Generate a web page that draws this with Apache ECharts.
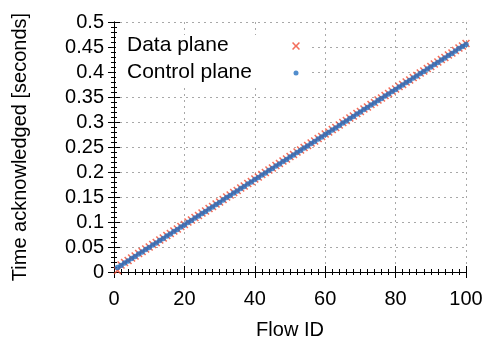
<!DOCTYPE html>
<html>
<head>
<meta charset="utf-8">
<script src="https://cdn.jsdelivr.net/npm/echarts@6/dist/echarts.min.js"></script>
<style>
  html, body { margin: 0; padding: 0; background: #fff; }
  #chart { width: 489px; height: 347px; }
</style>
</head>
<body>
<div id="chart"></div>
<script>
var flowIds = [1,2,3,4,5,6,7,8,9,10,11,12,13,14,15,16,17,18,19,20,
  21,22,23,24,25,26,27,28,29,30,31,32,33,34,35,36,37,38,39,40,
  41,42,43,44,45,46,47,48,49,50,51,52,53,54,55,56,57,58,59,60,
  61,62,63,64,65,66,67,68,69,70,71,72,73,74,75,76,77,78,79,80,
  81,82,83,84,85,86,87,88,89,90,91,92,93,94,95,96,97,98,99,100];

var dataPlane = [0.003,0.014,0.019,0.023,0.028,0.032,0.037,0.041,0.046,0.050,
  0.055,0.059,0.064,0.068,0.073,0.077,0.082,0.086,0.091,0.095,
  0.100,0.104,0.109,0.113,0.118,0.122,0.127,0.131,0.136,0.140,
  0.145,0.150,0.154,0.159,0.163,0.168,0.172,0.177,0.181,0.186,
  0.190,0.195,0.199,0.204,0.208,0.213,0.217,0.222,0.226,0.231,
  0.235,0.240,0.244,0.249,0.253,0.258,0.262,0.267,0.271,0.276,
  0.280,0.285,0.289,0.294,0.299,0.303,0.308,0.312,0.317,0.321,
  0.326,0.330,0.335,0.339,0.344,0.348,0.353,0.357,0.362,0.366,
  0.371,0.375,0.380,0.384,0.389,0.393,0.398,0.402,0.407,0.411,
  0.416,0.420,0.425,0.429,0.434,0.438,0.443,0.448,0.452,0.457];

var controlPlane = [0.009,0.013,0.018,0.022,0.027,0.031,0.036,0.040,0.045,0.049,
  0.054,0.058,0.063,0.067,0.072,0.076,0.081,0.085,0.090,0.094,
  0.099,0.103,0.108,0.112,0.117,0.121,0.126,0.130,0.135,0.139,
  0.144,0.149,0.153,0.158,0.162,0.167,0.171,0.176,0.180,0.185,
  0.189,0.194,0.198,0.203,0.207,0.212,0.216,0.221,0.225,0.230,
  0.234,0.239,0.243,0.248,0.252,0.257,0.261,0.266,0.270,0.275,
  0.279,0.284,0.288,0.293,0.298,0.302,0.307,0.311,0.316,0.320,
  0.325,0.329,0.334,0.338,0.343,0.347,0.352,0.356,0.361,0.365,
  0.370,0.374,0.379,0.383,0.388,0.392,0.397,0.401,0.406,0.410,
  0.415,0.419,0.424,0.428,0.433,0.437,0.442,0.447,0.451,0.455];

var seriesNames = ['Data plane', 'Control plane'];

function pairs(xs, ys) {
    var out = [];
    for (var i = 0; i < xs.length; i++) out.push([xs[i], ys[i]]);
    return out;
}

var font = 'Liberation Sans, Arial, Helvetica, sans-serif';
var crossPath = 'path://M0,1.4L1.4,0L5,3.6L8.6,0L10,1.4L6.4,5L10,8.6L8.6,10L5,6.4L1.4,10L0,8.6L3.6,5Z';
var red = '#f04a32', blue = '#2670c0';

var myChart = echarts.init(document.getElementById('chart'), null, {renderer: 'canvas'});

var gridLine = {show: true, lineStyle: {color: '#a8a8a8', width: 1, type: [2, 4]}};
var ticks = {show: true, inside: true, length: 6, lineStyle: {color: '#000'}};
var noText = function () { return ''; };

var option = {
    animation: false,
    backgroundColor: '#fff',
    textStyle: {fontFamily: font, color: '#000'},
    grid: {left: 114, right: 23, top: 22, bottom: 75},
    // key box: white patch + labels, like gnuplot's opaque key
    graphic: [{
        type: 'rect', left: 116, top: 35, z: 5,
        shape: {width: 196, height: 51},
        style: {fill: '#fff'}
    }, {
        type: 'text', left: 127, top: 35, z: 6,
        style: {text: seriesNames[0], font: '21px ' + font, fill: '#000'}
    }, {
        type: 'text', left: 127, top: 62, z: 6,
        style: {text: seriesNames[1], font: '21px ' + font, fill: '#000'}
    }],
    legend: [{
        data: [{name: seriesNames[0], icon: crossPath}],
        left: 292, top: 42, padding: 0, z: 7,
        itemWidth: 8, itemHeight: 8,
        formatter: noText
    }, {
        data: [{name: seriesNames[1], icon: 'circle'}],
        left: 293.5, top: 70.5, padding: 0, z: 7,
        itemWidth: 5, itemHeight: 5,
        formatter: noText
    }],
    xAxis: [{
        type: 'value', min: 0, max: 100, interval: 20,
        name: 'Flow ID', nameLocation: 'middle', nameGap: 48,
        nameTextStyle: {fontSize: 20, color: '#000'},
        axisLine: {show: true, lineStyle: {color: '#000', width: 1}},
        axisTick: ticks,
        minorTick: {show: true, splitNumber: 10, length: 3, lineStyle: {color: '#000'}},
        axisLabel: {fontSize: 20, color: '#000', margin: 17},
        splitLine: gridLine
    }, {
        type: 'value', min: 0, max: 100, interval: 20, position: 'top',
        axisLine: {show: true, lineStyle: {color: '#000', width: 1}},
        axisTick: ticks,
        minorTick: {show: true, splitNumber: 10, length: 3, lineStyle: {color: '#000'}},
        axisLabel: {show: false},
        splitLine: {show: false}
    }],
    yAxis: [{
        type: 'value', min: 0, max: 0.5, interval: 0.05,
        name: 'Time acknowledged [seconds]', nameLocation: 'middle', nameGap: 84,
        nameTextStyle: {fontSize: 20, color: '#000'},
        axisLine: {show: true, lineStyle: {color: '#000', width: 1}},
        axisTick: ticks,
        minorTick: {show: true, splitNumber: 5, length: 3, lineStyle: {color: '#000'}},
        axisLabel: {fontSize: 20, color: '#000', margin: 10},
        splitLine: gridLine
    }, {
        type: 'value', min: 0, max: 0.5, interval: 0.05, position: 'right',
        axisLine: {show: true, lineStyle: {color: '#000', width: 1}},
        axisTick: ticks,
        minorTick: {show: true, splitNumber: 5, length: 3, lineStyle: {color: '#000'}},
        axisLabel: {show: false},
        splitLine: {show: false}
    }],
    series: [{
        name: seriesNames[0],
        type: 'scatter',
        symbol: crossPath,
        symbolSize: 8,
        itemStyle: {color: red},
        data: pairs(flowIds, dataPlane)
    }, {
        name: seriesNames[1],
        type: 'scatter',
        symbol: 'circle',
        symbolSize: 5.5,
        itemStyle: {color: blue},
        data: pairs(flowIds, controlPlane)
    }]
};

myChart.setOption(option);
</script>
</body>
</html>
